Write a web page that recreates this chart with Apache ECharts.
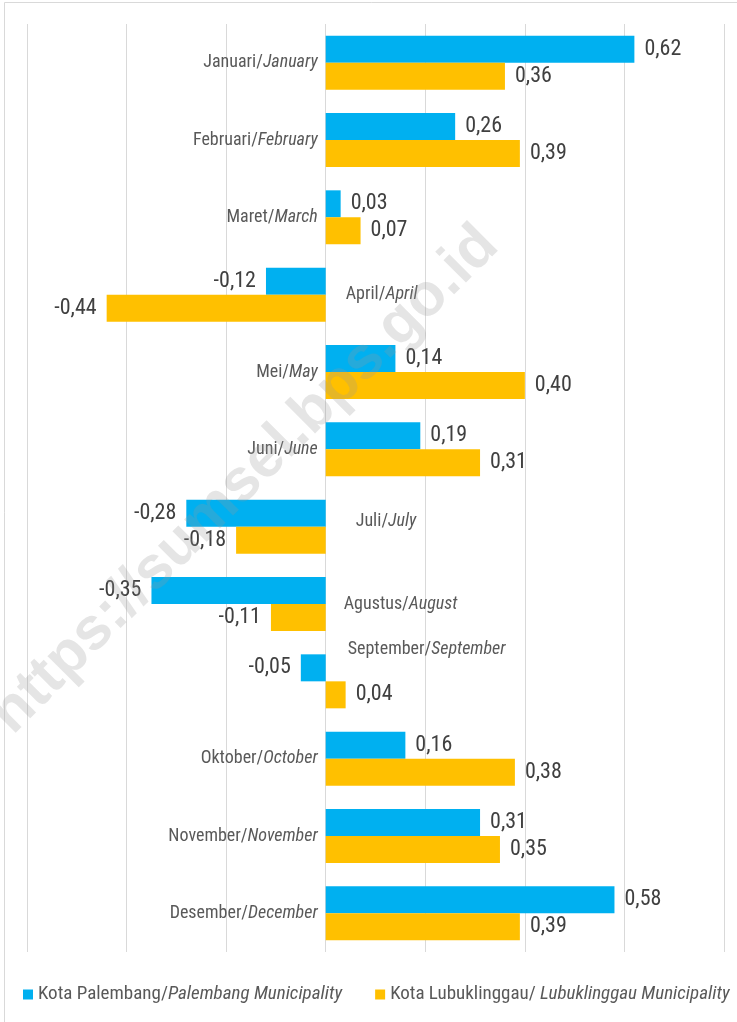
<!DOCTYPE html>
<html>
<head>
<meta charset="utf-8">
<script src="https://cdn.jsdelivr.net/npm/echarts@6/dist/echarts.min.js"></script>
<style>
  html, body { margin: 0; padding: 0; background: #fff; }
  #chart { width: 737px; height: 1022px; }
</style>
</head>
<body>
<div id="chart"></div>
<script>
const monthsId = ["Januari", "Februari", "Maret", "April", "Mei", "Juni", "Juli", "Agustus", "September", "Oktober", "November", "Desember"];
const monthsEn = ["January", "February", "March", "April", "May", "June", "July", "August", "September", "October", "November", "December"];
const palembang = [0.62, 0.26, 0.03, -0.12, 0.14, 0.19, -0.28, -0.35, -0.05, 0.16, 0.31, 0.58];
const lubuklinggau = [0.36, 0.39, 0.07, -0.44, 0.40, 0.31, -0.18, -0.11, 0.04, 0.38, 0.35, 0.39];

const FONT = '"Roboto Condensed", "DejaVu Sans Condensed", sans-serif';

// months whose name sits on the right of the zero line (padding: top, right, bottom, left)
const rightSide = {
  April: [0, 0, 0, 20],
  Juli: [0, 0, 10, 30],
  Agustus: [0, 0, 0, 18],
  September: [0, 0, 64, 22],
};

const labelText = (i) => monthsId[i] + "|" + monthsEn[i];

// left axis: names left of zero, second axis (inside labels): names right of zero
const leftCats = monthsId.map((m, i) => (rightSide[m] ? "" : labelText(i)));
const rightCats = monthsId.map((m, i) =>
  rightSide[m] ? { value: labelText(i), textStyle: { padding: rightSide[m] } } : ""
);

const fmt = (p) => p.value.toFixed(2).replace(".", ",");
const toData = (arr) =>
  arr.map((v) => ({ value: v, label: { position: v < 0 ? "left" : "right" } }));

const richName = {
  n: { fontFamily: FONT, fontSize: 18, color: "#595959" },
  i: { fontFamily: FONT, fontSize: 18, color: "#595959", fontStyle: "italic" },
};
const richLegend = {
  n: { fontFamily: FONT, fontSize: 19, color: "#595959" },
  i: { fontFamily: FONT, fontSize: 19, color: "#595959", fontStyle: "italic" },
};
const nameFormatter = (v) => {
  if (!v) return "";
  const [a, b] = v.split("|");
  return "{n|" + a + "/}{i|" + b + "}";
};

const chart = echarts.init(document.getElementById("chart"));

chart.setOption({
  animation: false,
  backgroundColor: "#fff",
  textStyle: { fontFamily: FONT },
  grid: { left: 27, right: 13, top: 24, bottom: 70, outerBoundsMode: "none", containLabel: false },
  xAxis: {
    type: "value",
    min: -0.6,
    max: 0.8,
    interval: 0.2,
    axisLabel: { show: false },
    axisTick: { show: false },
    axisLine: { show: false },
    splitLine: { lineStyle: { color: "#d9d9d9", width: 1 } },
  },
  yAxis: [
    {
      type: "category",
      inverse: true,
      position: "left",
      data: leftCats,
      axisTick: { show: false },
      axisLine: { show: false },
      axisLabel: {
        interval: 0,
        margin: 8,
        hideOverlap: false,
        color: "#595959",
        fontSize: 18,
        formatter: nameFormatter,
        rich: richName,
      },
    },
    {
      type: "category",
      inverse: true,
      position: "left",
      data: rightCats,
      axisTick: { show: false },
      axisLine: { show: false },
      splitLine: { show: false },
      axisLabel: {
        inside: true,
        interval: 0,
        margin: 0,
        hideOverlap: false,
        color: "#595959",
        fontSize: 18,
        formatter: nameFormatter,
        rich: richName,
      },
    },
  ],
  legend: {
    bottom: 13,
    left: 18,
    icon: "rect",
    itemWidth: 10,
    itemHeight: 10,
    itemGap: 33,
    textStyle: {
      fontFamily: FONT,
      fontSize: 19,
      color: "#595959",
      rich: richLegend,
    },
    formatter: (name) => {
      if (name === "Kota Palembang") return "{n|Kota Palembang/}{i|Palembang Municipality}";
      return "{n|Kota Lubuklinggau/}{i| Lubuklinggau Municipality}";
    },
    data: ["Kota Palembang", "Kota Lubuklinggau"],
  },
  series: [
    {
      name: "Kota Palembang",
      type: "bar",
      yAxisIndex: 0,
      barWidth: 27,
      barGap: "0%",
      itemStyle: { color: "#00B0F0" },
      label: {
        show: true,
        distance: 10,
        fontFamily: FONT,
        fontSize: 22,
        color: "#404040",
        formatter: fmt,
      },
      data: toData(palembang),
    },
    {
      name: "Kota Lubuklinggau",
      type: "bar",
      yAxisIndex: 0,
      barWidth: 27,
      barGap: "0%",
      itemStyle: { color: "#FFC000" },
      label: {
        show: true,
        distance: 10,
        fontFamily: FONT,
        fontSize: 22,
        color: "#404040",
        formatter: fmt,
      },
      data: toData(lubuklinggau),
    },
  ],
  graphic: [
    {
      type: "rect",
      silent: true,
      z: 100,
      shape: { x: 4.5, y: 2.5, width: 760, height: 1040 },
      style: { fill: "none", stroke: "#d9d9d9", lineWidth: 1 },
    },
    {
      type: "text",
      silent: true,
      z: 100,
      x: 245,
      y: 480,
      rotation: Math.PI / 4,
      style: {
        text: "https://sumsel.bps.go.id",
        fontFamily: "Liberation Sans, Arial, sans-serif",
        fontWeight: "bold",
        fontSize: 60,
        fill: "rgba(150,150,150,0.25)",
        align: "center",
        verticalAlign: "middle",
      },
    },
  ],
});

// the month names hang on the zero line: shift both label axes from the grid edge to x = 0
const zeroX = chart.convertToPixel({ xAxisIndex: 0 }, 0);
const edgeX = chart.convertToPixel({ xAxisIndex: 0 }, -0.6);
const shift = zeroX - edgeX;
chart.setOption({
  yAxis: [{ axisLabel: { margin: 8 - shift } }, { axisLabel: { margin: shift } }],
});
</script>
</body>
</html>
